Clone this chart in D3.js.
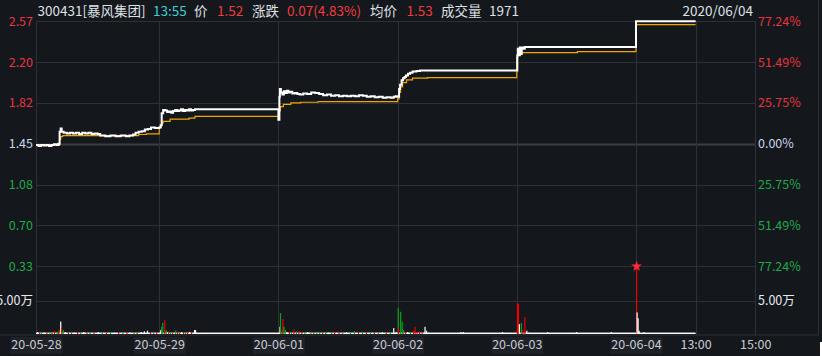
<!DOCTYPE html>
<html>
<head>
<meta charset="utf-8">
<script src="https://cdn.jsdelivr.net/npm/d3@7"></script>
<style>
  html, body { margin: 0; padding: 0; background: #14171c; overflow: hidden; }
  svg { display: block; }
  text { font-family: "Noto Sans CJK SC", "Noto Sans", sans-serif; }
</style>
</head>
<body>
<script>
//////////////////////////////////////////////////////////////////////////////
// Data
//
var dayLabels = ["20-05-28", "20-05-29", "20-06-01", "20-06-02", "20-06-03", "20-06-04"];
var timeLabels = ["13:00", "15:00"];
var preClose = 1.45;
var priceTicks = ["2.57", "2.20", "1.82", "1.45", "1.08", "0.70", "0.33"];
var pctTicks = ["77.24%", "51.49%", "25.75%", "0.00%", "25.75%", "51.49%", "77.24%"];
var pctSteps = [0.7724, 0.5149, 0.2575, 0, -0.2575, -0.5149, -0.7724];
var volTickLabel = "5.00万";
var volTickValue = 5;

// [minute of session (0-240), price]
var price0528 = [[0,1.44],[5,1.43],[10,1.44],[15,1.435],[20,1.44],[25,1.43],[30,1.44],[35,1.445],[40,1.44],[44,1.45],
  [46,1.56],[48,1.59],[50,1.56],[54,1.55],[60,1.545],[66,1.55],[72,1.545],[78,1.55],[84,1.54],[90,1.55],[96,1.545],
  [102,1.55],[108,1.54],[114,1.545],[120,1.54],[125,1.525],[135,1.52],[145,1.525],[155,1.52],[165,1.525],[175,1.52],
  [182,1.525],[189,1.535],[194,1.55],[200,1.56],[206,1.565],[212,1.58],[218,1.585],[224,1.60],[232,1.595],[240,1.60]];
var price0529 = [[0,1.60],[3,1.62],[5,1.73],[8,1.76],[12,1.755],[16,1.74],[20,1.745],[24,1.735],[28,1.75],[32,1.76],
  [36,1.75],[40,1.755],[44,1.765],[48,1.75],[52,1.76],[56,1.755],[60,1.765],[64,1.755],[68,1.76],[72,1.765],[240,1.765]];
var price0601 = [[0,1.67],[2,1.88],[3,1.95],[5,1.92],[8,1.90],[11,1.93],[14,1.915],[17,1.935],[20,1.92],[23,1.925],
  [28,1.91],[33,1.915],[38,1.905],[43,1.90],[50,1.91],[58,1.905],[66,1.92],[74,1.915],[82,1.905],[90,1.895],[98,1.90],
  [106,1.89],[114,1.895],[122,1.885],[130,1.89],[138,1.885],[146,1.89],[154,1.885],[162,1.895],[170,1.89],[178,1.88],
  [186,1.885],[194,1.875],[202,1.88],[210,1.87],[218,1.875],[226,1.87],[232,1.88],[236,1.885],[240,1.88]];
var price0602 = [[0,1.88],[3,1.95],[5,1.99],[8,2.03],[11,2.05],[14,2.06],[17,2.075],[21,2.09],[25,2.10],[30,2.11],
  [38,2.115],[45,2.12],[240,2.12]];
var price0603 = [[0,2.12],[1,2.26],[2,2.32],[4,2.26],[6,2.33],[8,2.27],[10,2.33],[13,2.32],[16,2.335],[240,2.335]];
var price0604 = [[0,2.57],[120,2.57]];

var avg0528 = [[0,1.44],[44,1.44],[46,1.49],[48,1.515],[52,1.525],[120,1.525],[189,1.525],[200,1.535],[215,1.54],[240,1.545]];
var avg0529 = [[0,1.60],[3,1.62],[5,1.64],[8,1.655],[22,1.675],[60,1.685],[72,1.70],[240,1.705]];
var avg0601 = [[0,1.67],[2,1.75],[4,1.79],[10,1.81],[25,1.825],[45,1.83],[80,1.835],[240,1.84]];
var avg0602 = [[0,1.86],[3,1.92],[6,1.97],[10,2.01],[18,2.035],[30,2.05],[60,2.055],[240,2.058]];
var avg0603 = [[0,2.24],[2,2.26],[6,2.275],[10,2.284],[121,2.284],[122,2.293],[240,2.293]];
var avg0604 = [[0,2.54],[120,2.54]];

// [minute, volume in 万, direction: 1 up / -1 down / 0 flat]
var vol0528 = [[2,0.3,0],[6,0.25,1],[10,0.3,-1],[14,0.2,0],[20,0.25,1],[26,0.3,-1],[30,0.2,1],[35,0.45,1],[40,0.3,-1],
  [43,0.5,1],[46,0.7,-1],[47,1.9,0],[49,0.9,1],[52,0.6,-1],[56,0.3,0],[62,0.25,1],[68,0.3,-1],[74,0.2,0],[80,0.3,1],
  [86,0.25,-1],[92,0.3,0],[98,0.2,1],[104,0.3,-1],[112,0.25,1],[120,0.3,0],[128,0.2,-1],[136,0.25,1],[144,0.3,-1],
  [152,0.2,0],[160,0.3,1],[168,0.25,-1],[176,0.3,1],[182,0.2,0],[190,0.3,-1],[196,0.25,1],[204,0.3,0],[210,0.4,0],
  [216,0.5,0],[222,0.3,1],[228,0.25,-1],[234,0.3,1]];
var vol0529 = [[2,0.6,0],[4,1.1,-1],[6,1.7,-1],[10,2.1,1],[13,0.6,-1],[16,0.3,0],[18,0.4,1],[22,0.3,-1],[26,0.2,1],
  [32,0.5,-1],[36,0.4,1],[40,0.3,-1],[44,0.25,0],[48,0.3,1],[52,0.3,-1],[56,0.25,1],[60,0.3,0],[64,0.25,1],[70,0.6,0],[72,0.6,0]];
var vol0601 = [[2,1.1,0],[3,3.2,-1],[6,0.6,1],[8,2.3,1],[10,1.1,-1],[13,0.6,-1],[16,0.3,0],[21,0.3,1],[25,0.25,-1],
  [30,0.7,1],[35,0.4,-1],[40,0.4,1],[46,0.3,1],[52,0.25,-1],[58,0.3,0],[64,0.25,-1],[70,0.3,1],[76,0.2,-1],[82,0.3,-1],
  [88,0.25,1],[94,0.3,-1],[100,0.2,0],[106,0.25,-1],[112,0.3,1],[121,0.35,1],[128,0.2,-1],[136,0.25,0],[144,0.2,-1],
  [152,0.45,-1],[160,0.3,1],[168,0.35,-1],[176,0.25,1],[184,0.2,-1],[192,0.25,1],[200,0.2,-1],[208,0.25,0],[216,0.2,1],
  [224,0.3,-1],[231,0.9,0],[236,0.3,0]];
var vol0602 = [[0,4.0,-1],[1,0.9,1],[5,3.4,-1],[8,1.9,-1],[11,0.6,-1],[15,0.3,1],[19,0.3,0],[25,0.3,-1],[31,0.5,1],
  [34,1.1,1],[38,0.3,1],[43,0.4,1],[48,0.2,1],[54,1.1,0],[57,0.5,0],[61,0.2,0],[126,0.3,0],[131,0.3,0],[210,0.3,0]];
var vol0603 = [[0,4.7,1],[2,4.6,1],[4,1.5,0],[8,1.7,-1],[11,0.6,1],[15,2.6,1],[19,0.5,0],[23,0.2,0],[61,0.3,0],[119,0.3,0],[189,0.3,0]];
var vol0604 = [[0,15,1],[1,3.3,0],[3,2.4,0],[5,0.5,0],[15,0.3,0]];

var header = [
  ["300431[暴风集团]", "#dfe1e4", 37.5],
  ["13:55", "#3ccfd6", 153],
  ["价", "#dfe1e4", 194],
  ["1.52", "#f03c3c", 217],
  ["涨跌", "#dfe1e4", 252],
  ["0.07(4.83%)", "#f03c3c", 287],
  ["均价", "#dfe1e4", 370],
  ["1.53", "#f03c3c", 406.5],
  ["成交量", "#dfe1e4", 441],
  ["1971", "#dfe1e4", 489]
];
var headerDate = "2020/06/04";

//////////////////////////////////////////////////////////////////////////////
// Drawing
//
var width = 822, height = 356;
var gridColor = "#2d3036";
var red = "#e8343c", green = "#1eaa48", neutral = "#c9d6ea";

var priceDays = [price0528, price0529, price0601, price0602, price0603, price0604];
var avgDays = [avg0528, avg0529, avg0601, avg0602, avg0603, avg0604];
var volDays = [vol0528, vol0529, vol0601, vol0602, vol0603, vol0604];

var x = d3.scaleLinear().domain([0, 1, 6]).range([36, 159.2, 755.2]);
var pct = d3.scaleLinear().domain([-0.7724, 0.7724]).range([266.3, 21.3]);
var vol = d3.scaleLinear().domain([0, volTickValue]).range([334, 301.3]);
var volTop = 266.3;

function flatten(days) {
  var out = [];
  days.forEach(function(day, i) {
    day.forEach(function(d) { out.push({t: i + d[0] / 240, p: d[1]}); });
  });
  return out;
}

var svg = d3.select("body").append("svg")
  .attr("width", width)
  .attr("height", height);

svg.append("rect").attr("width", width).attr("height", height).attr("fill", "#14171c");

// horizontal grid
svg.append("g")
  .selectAll("line")
  .data(pctSteps.concat([]))
  .enter().append("line")
  .attr("x1", 36).attr("x2", 756)
  .attr("y1", function(d) { return Math.round(pct(d)) + 0.5; })
  .attr("y2", function(d) { return Math.round(pct(d)) + 0.5; })
  .attr("stroke", function(d) { return d === 0 ? "#3b3e44" : gridColor; })
  .attr("stroke-width", function(d) { return d === 0 ? 2 : 1; });

svg.append("line")
  .attr("x1", 36).attr("x2", 756)
  .attr("y1", Math.round(vol(volTickValue)) + 0.5).attr("y2", Math.round(vol(volTickValue)) + 0.5)
  .attr("stroke", gridColor);

// vertical grid
var vLines = [0, 1, 2, 3, 4, 5, 5.5, 6];
svg.append("g")
  .selectAll("line")
  .data(vLines)
  .enter().append("line")
  .attr("x1", function(d) { return Math.round(x(d)) + 0.5; })
  .attr("x2", function(d) { return Math.round(x(d)) + 0.5; })
  .attr("y1", 21).attr("y2", 335)
  .attr("stroke", gridColor);

svg.append("line").attr("x1", 818.5).attr("x2", 818.5).attr("y1", 0).attr("y2", 335).attr("stroke", gridColor);
svg.append("line").attr("x1", 0).attr("x2", 819).attr("y1", 335).attr("y2", 335).attr("stroke", gridColor);
svg.append("rect").attr("x", 820).attr("y", 342).attr("width", 2).attr("height", 14).attr("fill", "#ffffff");

// volume bars
var bars = [];
volDays.forEach(function(day, i) {
  day.forEach(function(d) { bars.push({t: i + d[0] / 240, v: d[1], dir: d[2]}); });
});

svg.append("rect")
  .attr("x", x(0)).attr("width", x(5.5) - x(0))
  .attr("y", vol(0.22)).attr("height", vol(0) - vol(0.22))
  .attr("fill", "#ffffff");

svg.append("g")
  .selectAll("rect")
  .data(bars)
  .enter().append("rect")
  .attr("x", function(d) { return x(d.t); })
  .attr("width", 1.2)
  .attr("y", function(d) { return Math.max(volTop, vol(d.v)); })
  .attr("height", function(d) { return vol(0) - Math.max(volTop, vol(d.v)); })
  .attr("fill", function(d) { return d.dir > 0 ? "#f00000" : d.dir < 0 ? "#0aa51e" : "#ffffff"; });

// overflow marker
svg.append("g")
  .selectAll("path")
  .data(bars.filter(function(d) { return vol(d.v) < volTop; }))
  .enter().append("path")
  .attr("d", d3.symbol().type(d3.symbolStar).size(36))
  .attr("transform", function(d) { return "translate(" + (x(d.t) + 0.6) + "," + volTop + ")"; })
  .attr("fill", "#ff2a3a");

// price and average lines
var line = d3.line()
  .x(function(d) { return x(d.t); })
  .y(function(d) { return pct(d.p / preClose - 1); })
  .curve(d3.curveStepAfter);

svg.append("path")
  .datum(flatten(avgDays))
  .attr("d", line)
  .attr("fill", "none")
  .attr("stroke", "#f2a600")
  .attr("stroke-width", 1.2);

svg.append("path")
  .datum(flatten(priceDays))
  .attr("d", line)
  .attr("fill", "none")
  .attr("stroke", "#ffffff")
  .attr("stroke-width", 2);

// left axis
var leftAxis = d3.axisLeft(pct).tickValues(pctSteps).tickSize(0).tickPadding(0)
  .tickFormat(function(d, i) { return priceTicks[i]; });
var gl = svg.append("g").attr("transform", "translate(33,0)").call(leftAxis);
gl.select(".domain").remove();
gl.selectAll("text")
  .attr("font-size", 12.5)
  .attr("font-family", "'Noto Sans CJK SC', sans-serif")
  .attr("fill", function(d) { return d > 0 ? red : d < 0 ? green : neutral; });

// right axis
var rightAxis = d3.axisRight(pct).tickValues(pctSteps).tickSize(0).tickPadding(0)
  .tickFormat(function(d, i) { return pctTicks[i]; });
var gr = svg.append("g").attr("transform", "translate(758,0)").call(rightAxis);
gr.select(".domain").remove();
gr.selectAll("text")
  .attr("font-size", 12.5)
  .attr("font-family", "'Noto Sans CJK SC', sans-serif")
  .attr("fill", function(d) { return d > 0 ? red : d < 0 ? green : neutral; });

// volume axis labels
[[33, "end"], [758, "start"]].forEach(function(s) {
  svg.append("text")
    .attr("x", s[0]).attr("y", vol(volTickValue))
    .attr("dy", "0.32em")
    .attr("text-anchor", s[1])
    .attr("font-size", 12.5)
    .attr("fill", "#e8eaee")
    .text(volTickLabel);
});

// bottom axis
var bottomTicks = [0, 1, 2, 3, 4, 5, 5.5, 6];
var bottomLabels = dayLabels.concat(timeLabels);
var bottomAxis = d3.axisBottom(x).tickValues(bottomTicks).tickSize(0).tickPadding(0)
  .tickFormat(function(d, i) { return bottomLabels[i]; });
var gb = svg.append("g").attr("transform", "translate(0,338)").call(bottomAxis);
gb.select(".domain").remove();
gb.selectAll(".tick").filter(function(d) { return d % 1 === 0 && d < 6; })
  .insert("rect", "text")
  .attr("x", -26).attr("y", -1).attr("width", 52).attr("height", 17)
  .attr("fill", "#1e2127");
gb.selectAll("text")
  .attr("y", 11)
  .attr("dy", 0)
  .attr("font-size", 12.5)
  .attr("font-family", "'Noto Sans CJK SC', sans-serif")
  .attr("fill", "#c8ccd2");

// header
svg.append("g")
  .selectAll("text")
  .data(header)
  .enter().append("text")
  .attr("x", function(d) { return d[2]; })
  .attr("y", 15.5)
  .attr("font-size", 13.5)
  .attr("fill", function(d) { return d[1]; })
  .text(function(d) { return d[0]; });

svg.append("text")
  .attr("x", 753).attr("y", 15.5)
  .attr("text-anchor", "end")
  .attr("font-size", 13.5)
  .attr("fill", "#dfe1e4")
  .text(headerDate);
</script>
</body>
</html>
